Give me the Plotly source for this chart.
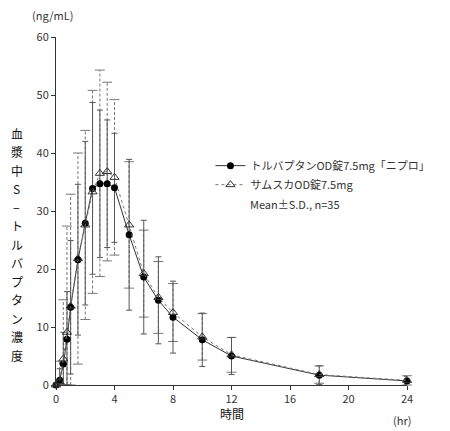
import plotly.graph_objects as go

# 時間 (hr)
jikan = [0, 0.25, 0.5, 0.75, 1, 1.5, 2, 2.5, 3, 3.5, 4, 5, 6, 7, 8, 10, 12, 18, 24]

# トルバプタンOD錠7.5mg「ニプロ」 mean / SD (ng/mL)
nipro_mean = [0, 0.8, 3.6, 7.9, 13.4, 21.6, 27.9, 33.9, 34.7, 34.7, 34.0,
              25.9, 18.6, 14.6, 11.7, 7.8, 5.0, 1.7, 0.7]
nipro_sd = [0, 2.0, 5.5, 8.2, 11.5, 13.0, 14.1, 14.8, 12.7, 11.0, 9.4,
            13.0, 9.8, 7.5, 6.2, 4.6, 3.2, 1.6, 0.8]

# サムスカOD錠7.5mg mean / SD (ng/mL)
samsca_mean = [0, 0.6, 4.5, 9.1, 13.6, 21.8, 27.6, 33.3, 36.5, 36.8, 35.8,
               27.6, 19.2, 15.1, 12.5, 8.3, 5.2, 1.8, 0.8]
samsca_sd = [0, 3.5, 10.2, 18.3, 19.3, 18.2, 16.3, 17.5, 17.8, 15.4, 13.4,
             10.9, 7.5, 6.2, 5.0, 4.0, 3.0, 1.5, 0.8]

nipro_name = 'トルバプタンOD錠7.5mg「ニプロ」'
samsca_name = 'サムスカOD錠7.5mg'
y_title = '血漿中S−トルバプタン濃度'

FONT = 'Noto Sans CJK JP'
DARK = '#333333'
GRAY = '#777777'

# 0 より下には伸ばさない
nipro_minus = [min(s, m) for m, s in zip(nipro_mean, nipro_sd)]
samsca_minus = [min(s, m) for m, s in zip(samsca_mean, samsca_sd)]

# サムスカの破線エラーバー(縦線)
stem_x, stem_y = [], []
for t, m, s, sm in zip(jikan, samsca_mean, samsca_sd, samsca_minus):
    if s == 0:
        continue
    stem_x += [t, t, None]
    stem_y += [m - sm, m + s, None]
cap_x = [t for t, s in zip(jikan, samsca_sd) if s > 0]
cap_hi = [m + s for m, s in zip(samsca_mean, samsca_sd) if s > 0]
cap_lo = [m - sm for m, s, sm in zip(samsca_mean, samsca_sd, samsca_minus) if s > 0]

fig = go.Figure()

fig.add_trace(go.Scatter(
    x=stem_x, y=stem_y, mode='lines',
    line=dict(color=GRAY, width=1, dash='3px,2px'),
    showlegend=False, hoverinfo='skip', cliponaxis=False
))
fig.add_trace(go.Scatter(
    x=cap_x + cap_x, y=cap_hi + cap_lo, mode='markers',
    marker=dict(symbol='line-ew', size=7, line=dict(color=GRAY, width=1)),
    showlegend=False, hoverinfo='skip', cliponaxis=False
))

fig.add_trace(go.Scatter(
    x=jikan, y=nipro_mean, mode='lines+markers', name=nipro_name,
    line=dict(color=DARK, width=1),
    marker=dict(symbol='circle', size=7, color='black'),
    error_y=dict(type='data', array=nipro_sd, arrayminus=nipro_minus,
                 color='#555555', thickness=1, width=3),
    cliponaxis=False, legendrank=1
))

fig.add_trace(go.Scatter(
    x=jikan, y=samsca_mean, mode='lines+markers', name=samsca_name,
    line=dict(color=GRAY, width=1, dash='dot'),
    marker=dict(symbol='triangle-up-open', size=8, color='#333333',
                line=dict(width=1)),
    cliponaxis=False, legendrank=2
))

annots = [
    dict(text='Mean±S.D., n=35', x=0.548, y=0.52, xref='paper', yref='paper',
         xanchor='left', yanchor='middle', showarrow=False,
         font=dict(size=11, color=DARK)),
    dict(text='(ng/mL)', x=-0.01, y=1.062, xref='paper', yref='paper',
         xanchor='center', yanchor='middle', showarrow=False,
         font=dict(size=11, color=DARK)),
    dict(text='時間', x=0.501, y=-0.083, xref='paper', yref='paper',
         xanchor='center', yanchor='middle', showarrow=False,
         font=dict(size=12, color='#111111')),
    dict(text='(hr)', x=0.986, y=-0.101, xref='paper', yref='paper',
         xanchor='center', yanchor='middle', showarrow=False,
         font=dict(size=11, color=DARK)),
]

# 縦書きの軸タイトル(1文字ずつ)
for i, ch in enumerate(y_title):
    annots.append(dict(
        text=ch, x=-0.112, y=0.724 - i * 0.0532, xref='paper', yref='paper',
        xanchor='center', yanchor='middle', showarrow=False,
        font=dict(size=12, color='#111111')
    ))

# ページ本体に 8px の余白が付くので、その分だけ図を小さくする
fig.update_layout(
    width=442, height=423,
    margin=dict(l=48, r=43, t=29, b=46),
    paper_bgcolor='white', plot_bgcolor='white',
    font=dict(family=FONT, size=11, color=DARK),
    showlegend=True,
    legend=dict(
        x=0.44, y=0.672, xanchor='left', yanchor='top',
        bgcolor='rgba(0,0,0,0)', itemwidth=30, tracegroupgap=0,
        font=dict(family=FONT, size=11, color=DARK)
    ),
    xaxis=dict(
        range=[0, 24], tickvals=[0, 4, 8, 12, 16, 20, 24],
        showgrid=False, zeroline=False, showline=True,
        linecolor=DARK, linewidth=1, ticks='outside', ticklen=4,
        tickcolor=DARK, tickfont=dict(size=11, color=DARK)
    ),
    yaxis=dict(
        range=[0, 60], tickvals=[0, 10, 20, 30, 40, 50, 60],
        showgrid=False, zeroline=False, showline=True,
        linecolor=DARK, linewidth=1, ticks='outside', ticklen=4,
        tickcolor=DARK, tickfont=dict(size=11, color=DARK)
    ),
    annotations=annots
)

fig.write_html("out.html")
